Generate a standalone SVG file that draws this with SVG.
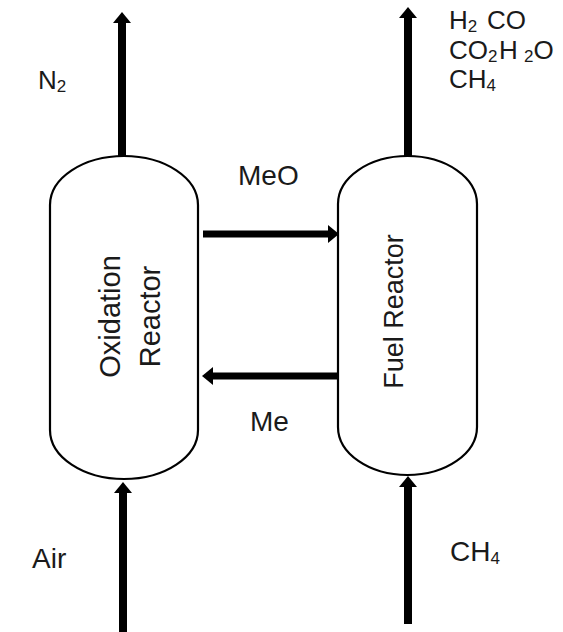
<svg xmlns="http://www.w3.org/2000/svg" width="563" height="632" viewBox="0 0 563 632">
  <style>
    .vessel { fill: #ffffff; stroke: #000000; stroke-width: 2.2; }
    .flow { stroke: #000000; stroke-width: 8; fill: none; }
    .flowh { stroke: #000000; stroke-width: 7; fill: none; }
    .lbl { font-family: "Liberation Sans", Arial, sans-serif; fill: #1a1a1a; }
    .top { font-size: 26px; }
    .mid { font-size: 28px; }
    .sub { font-size: 17px; }
    .rot { font-family: "Liberation Sans", Arial, sans-serif; font-size: 29px; fill: #1a1a1a; text-anchor: middle; }
  </style>
  <defs>
    <marker id="head" markerUnits="userSpaceOnUse" markerWidth="11" markerHeight="18" refX="0" refY="9" orient="auto" viewBox="0 0 11 18">
      <path d="M0,0 L11,9 L0,18 Z" fill="#000000"/>
    </marker>
  </defs>

  <g id="connectors">
    <line id="out-n2" class="flow" x1="122" y1="158" x2="122" y2="23" marker-end="url(#head)"/>
    <line id="out-fuel" class="flow" x1="408" y1="156" x2="408" y2="18" marker-end="url(#head)"/>
    <line id="meo" class="flowh" x1="203" y1="234" x2="328" y2="234" marker-end="url(#head)"/>
    <line id="me" class="flowh" x1="342" y1="376" x2="213" y2="376" marker-end="url(#head)"/>
    <line id="in-air" class="flow" x1="123" y1="632" x2="123" y2="493" marker-end="url(#head)"/>
    <line id="in-ch4" class="flow" x1="408" y1="624" x2="408" y2="487" marker-end="url(#head)"/>
  </g>

  <g id="oxidation-reactor">
    <path class="vessel" d="M50,205 A74,49 0 0 1 198,205 L198,430 A74,49 0 0 1 50,430 Z"/>
    <text class="rot" transform="translate(120,316.5) rotate(-90)">Oxidation</text>
    <text class="rot" transform="translate(160,316.5) rotate(-90)">Reactor</text>
  </g>

  <g id="fuel-reactor">
    <path class="vessel" d="M338,204 A69.5,48 0 0 1 477,204 L477,427 A69.5,48 0 0 1 338,427 Z"/>
    <text class="rot" style="font-size:27px" transform="translate(403,311.5) rotate(-90)">Fuel Reactor</text>
  </g>

  <g id="labels">
    <text class="lbl top" x="38" y="89">N<tspan class="sub" dy="3">2</tspan></text>
    <text class="lbl top" x="449" y="29">H<tspan class="sub" dy="3">2</tspan><tspan dy="-3" x="487">CO</tspan></text>
    <text class="lbl top" x="449" y="59">CO<tspan class="sub" dy="3">2</tspan><tspan dy="-3" x="499">H</tspan><tspan class="sub" dy="3" x="524">2</tspan><tspan dy="-3">O</tspan></text>
    <text class="lbl top" x="449" y="88">CH<tspan class="sub" dy="3">4</tspan></text>
    <text class="lbl mid" x="238" y="185">MeO</text>
    <text class="lbl mid" x="250" y="431">Me</text>
    <text class="lbl mid" x="32" y="568">Air</text>
    <text class="lbl mid" x="450" y="561">CH<tspan class="sub" dy="3">4</tspan></text>
  </g>
</svg>
